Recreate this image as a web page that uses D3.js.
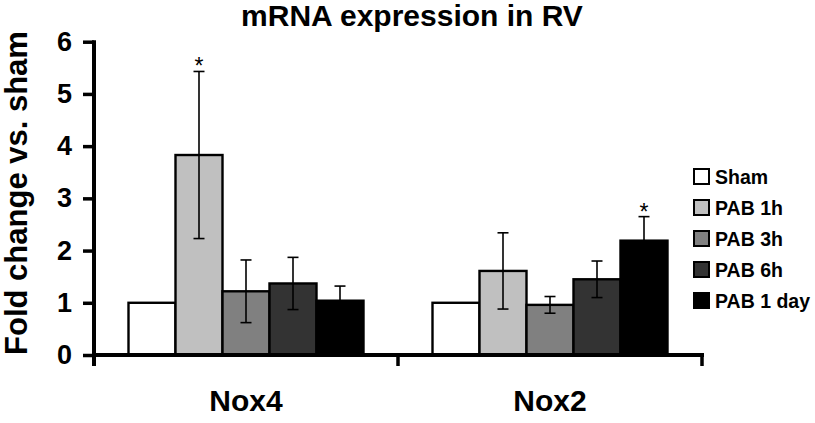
<!DOCTYPE html>
<html><head><meta charset="utf-8">
<script src="https://cdn.jsdelivr.net/npm/d3@7"></script>
<style>body{margin:0;background:#fff}svg{display:block}text{font-family:"Liberation Sans",Arial,sans-serif}</style>
</head><body>
<script>
const categories = ["Nox4", "Nox2"];
const series = ["Sham", "PAB 1h", "PAB 3h", "PAB 6h", "PAB 1 day"];
const nox4Values = [1.0, 3.83, 1.22, 1.37, 1.04];
const nox4Errors = [0, 1.60, 0.60, 0.50, 0.28];
const nox2Values = [1.0, 1.61, 0.96, 1.45, 2.19];
const nox2Errors = [0, 0.73, 0.16, 0.35, 0.46];
const nox4Sig = [false, true, false, false, false];
const nox2Sig = [false, false, false, false, true];
const yTicks = [0, 1, 2, 3, 4, 5, 6];
const colors = ["#ffffff", "#c0c0c0", "#808080", "#333333", "#000000"];

const values = [nox4Values, nox2Values];
const errors = [nox4Errors, nox2Errors];
const sigs = [nox4Sig, nox2Sig];

const W = 815, H = 423;
const svg = d3.select("body").append("svg").attr("width", W).attr("height", H);

const y = d3.scaleLinear().domain([0, 6]).range([355, 41.7]);
const x0 = d3.scaleBand().domain(categories).range([94, 702]).padding(0);
const x1 = d3.scaleBand().domain(series).range([0, x0.bandwidth()]).paddingInner(0).paddingOuter(0.734);
const color = d3.scaleOrdinal().domain(series).range(colors);

const data = [];
categories.forEach((c, ci) => series.forEach((s, si) => data.push({
  cat: c, ser: s, v: values[ci][si], e: errors[ci][si], sig: sigs[ci][si]
})));

// bars
svg.append("g").selectAll("rect").data(data).join("rect")
  .attr("x", d => x0(d.cat) + x1(d.ser))
  .attr("y", d => y(d.v))
  .attr("width", x1.bandwidth())
  .attr("height", d => y(0) - y(d.v))
  .attr("fill", d => color(d.ser))
  .style("stroke", "#000").style("stroke-width", "2.4px");

// error bars
const eb = svg.append("g").style("stroke", "#000").style("stroke-width", "1.6px");
data.filter(d => d.e > 0).forEach(d => {
  const cx = x0(d.cat) + x1(d.ser) + x1.bandwidth() / 2;
  eb.append("line").attr("x1", cx).attr("x2", cx).attr("y1", y(d.v - d.e)).attr("y2", y(d.v + d.e));
  eb.append("line").attr("x1", cx - 5.5).attr("x2", cx + 5.5).attr("y1", y(d.v + d.e)).attr("y2", y(d.v + d.e));
  eb.append("line").attr("x1", cx - 5.5).attr("x2", cx + 5.5).attr("y1", y(d.v - d.e)).attr("y2", y(d.v - d.e));
});

// significance
svg.append("g").selectAll("text").data(data.filter(d => d.sig)).join("text")
  .attr("x", d => x0(d.cat) + x1(d.ser) + x1.bandwidth() / 2)
  .attr("y", d => y(d.v + d.e) + 3)
  .attr("text-anchor", "middle").style("font-size", "23px").text("*");

// y axis
const yAxis = svg.append("g").attr("transform", "translate(94,0)")
  .call(d3.axisLeft(y).tickValues(yTicks).tickFormat(d3.format("d")).tickSize(11).tickPadding(11));
yAxis.select(".domain").style("stroke-width", "4px").attr("d", `M0,${y(6) - 1.5}V${y(0) + 11}`);
yAxis.selectAll(".tick line").style("stroke-width", "3.5px");
yAxis.selectAll(".tick text").style("font-size", "27px").style("font-weight", "bold").attr("fill", "#000");

// x axis
const xAxis = svg.append("g").attr("transform", `translate(0,${y(0)})`)
  .call(d3.axisBottom(x0).tickSize(0).tickPadding(0).tickFormat(""));
xAxis.select(".domain").style("stroke-width", "4px").attr("d", "M92,0H704");
xAxis.selectAll(".tick").remove();
const bounds = [94].concat(categories.map(c => x0(c) + x0.bandwidth()));
xAxis.selectAll("line.sep").data(bounds).join("line").attr("class", "sep")
  .attr("x1", d => d).attr("x2", d => d).attr("y1", 0).attr("y2", 11)
  .style("stroke", "#000").style("stroke-width", "3.5px");
svg.append("g").selectAll("text").data(categories).join("text")
  .attr("x", d => x0(d) + x0.bandwidth() / 2)
  .attr("y", 410.5)
  .attr("text-anchor", "middle").style("font-size", "30px").style("font-weight", "bold").text(d => d);

// title
svg.append("text").attr("x", 412).attr("y", 26).attr("text-anchor", "middle")
  .style("font-size", "30px").style("font-weight", "bold").text("mRNA expression in RV");

// y axis title
svg.append("text").attr("transform", "translate(27,193) rotate(-90)").attr("text-anchor", "middle")
  .style("font-size", "31px").style("font-weight", "bold").text("Fold change vs. sham");

// legend
const lg = svg.append("g").selectAll("g").data(series).join("g")
  .attr("transform", (d, i) => `translate(694,${176.5 + i * 31})`);
lg.append("rect").attr("x", 0).attr("y", -7.5).attr("width", 15).attr("height", 15)
  .attr("fill", d => color(d)).style("stroke", "#000").style("stroke-width", "2px");
lg.append("text").attr("x", 21).attr("y", 7).style("font-size", "19.5px").style("font-weight", "bold").text(d => d);
</script>
</body></html>
